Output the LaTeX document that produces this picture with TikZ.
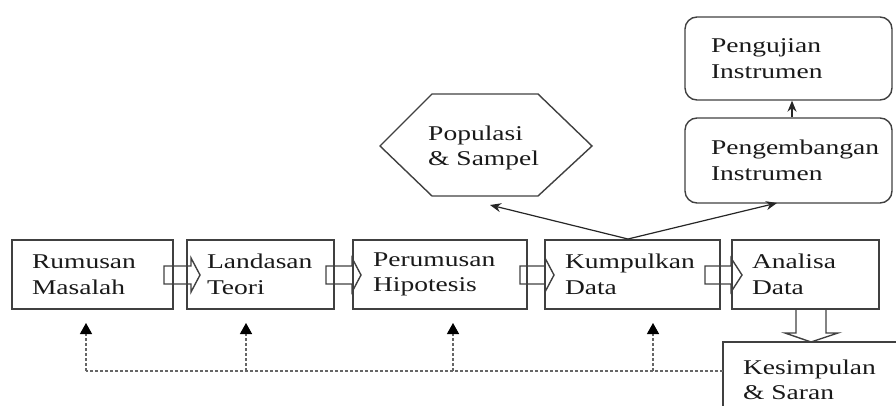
\documentclass[tikz,border=0pt]{standalone}
\usepackage{fontspec}
\setmainfont{Liberation Serif}[FakeStretch=1.31]
\usetikzlibrary{arrows.meta}
\begin{document}
\begin{tikzpicture}[x=1pt,y=-1pt,
  txt/.style={font=\fontsize{21}{25.5}\selectfont, text=black!90},
  box/.style={txt, draw=black!75, line width=1.4pt, rectangle, inner xsep=20pt, inner ysep=0pt, align=left, minimum height=69pt},
  rbox/.style={box, rounded corners=12pt, inner xsep=26pt},
  shape line/.style={draw=black!75, line width=1.4pt, line join=miter},
  thinarrow/.style={draw=black!85, line width=1.2pt, -{Stealth[length=11pt,width=9pt]}},
  dashline/.style={draw=black!60, line width=1.3pt, dash pattern=on 3pt off 2pt},
  dasharrow/.style={dashline, -{Triangle[width=12pt,length=11pt,color=black,fill=black]}}]
\useasboundingbox (0,0) rectangle (896,406);
\clip (0,0) rectangle (896,406);
% main row
\node[box, minimum width=161pt, text width=121pt] (rm) at (92.5,274.5) {Rumusan\\Masalah};
\node[box, minimum width=147pt, text width=107pt] (lt) at (260.5,274.5) {Landasan\\Teori};
\node[box, minimum width=174pt, text width=134pt] (ph) at (440,274.5) {Perumusan\\Hipotesis};
\node[box, minimum width=175pt, text width=135pt] (kd) at (632.5,274.5) {Kumpulkan\\Data};
\node[box, minimum width=147pt, text width=107pt] (ad) at (805.5,274.5) {Analisa\\Data};
\node[box, minimum width=187pt, text width=147pt, minimum height=76pt] (ks) at (816.5,380) {Kesimpulan\\\& Saran};
% top right
\node[rbox, minimum width=207pt, text width=155pt, minimum height=83pt] (pu) at (788.5,58.5) {Pengujian\\Instrumen};
\node[rbox, minimum width=207pt, text width=155pt, minimum height=85pt] (pe) at (788.5,160.5) {Pengembangan\\Instrumen};
% hexagon
\draw[shape line] (380,146) -- (432,94) -- (538,94) -- (592,146) -- (538,196) -- (432,196) -- cycle;
\node[txt, anchor=west, align=left, inner sep=0pt] (ps) at (428,148) {Populasi\\\& Sampel};
% block arrows
\foreach \xa/\xb/\xt in {164/191/200, 326/352/361, 520/545/554, 705/731/742}{
  \draw[shape line] (\xa,266) -- (\xb,266) -- (\xb,258) -- (\xt,275) -- (\xb,292) -- (\xb,284) -- (\xa,284) -- cycle;
}
\draw[shape line] (796,309) -- (796,333) -- (785,333) -- (811,342) -- (838,333) -- (826,333) -- (826,309);
% arrows from Kumpulkan Data
\coordinate (ktop) at (628,239);
\coordinate (popt) at (490,205);
\coordinate (pet) at (777,203);
\draw[thinarrow] (ktop) -- (popt);
\draw[thinarrow] (ktop) -- (pet);
\draw[thinarrow] ([xshift=3.5pt]pe.north) -- ([xshift=3.5pt]pu.south);
% feedback
\coordinate (fbend) at (723,371);
\coordinate (f1) at (86,371);
\coordinate (f2) at (246,371);
\coordinate (f3) at (453,371);
\coordinate (f4) at (653,371);
\draw[dashline] (fbend) -- (f1);
\draw[dasharrow] (f1) -- (86,323);
\draw[dasharrow] (f2) -- (246,323);
\draw[dasharrow] (f3) -- (453,323);
\draw[dasharrow] (f4) -- (653,323);
\end{tikzpicture}
\end{document}
